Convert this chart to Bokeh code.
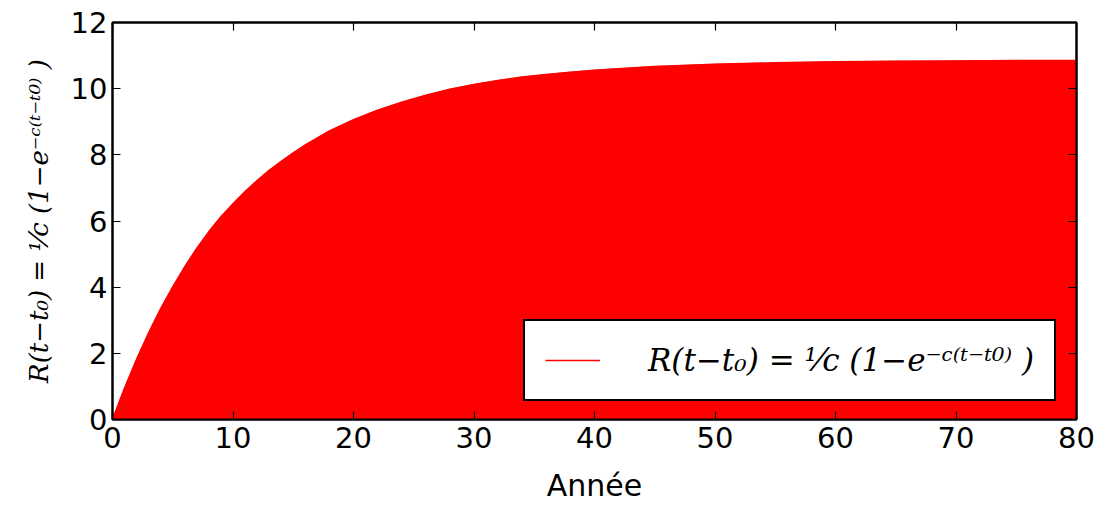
from bokeh.plotting import figure
from bokeh.models import Range1d, LinearAxis, Legend, LegendItem, FixedTicker
from bokeh.embed import file_html
from bokeh.resources import INLINE

# Values
years = [0, 1, 2, 3, 4, 5, 6, 7, 8, 9, 10, 11, 12, 13, 14, 15, 16, 18, 20, 22, 24, 26, 28,
         30, 32, 34, 36, 38, 40, 45, 50, 55, 60, 65, 70, 75, 80]
recrutement = [0.0, 0.95, 1.82, 2.62, 3.35, 4.01, 4.62, 5.18, 5.68, 6.13, 6.52,
               6.89, 7.22, 7.53, 7.80, 8.06, 8.30, 8.72, 9.06, 9.35, 9.59, 9.80, 9.98,
               10.13, 10.25, 10.35, 10.43, 10.50, 10.56, 10.67, 10.74, 10.78,
               10.81, 10.83, 10.84, 10.85, 10.85]
x_ticks = [0, 10, 20, 30, 40, 50, 60, 70, 80]
y_ticks = [0, 2, 4, 6, 8, 10, 12]
label_text = "R(t\u2212t\u2080) = \u00b9\u2044c (1\u2212e\u207b\u1d9c\u207d\u1d57\u207b\u1d57\u2070\u207e )"
x_label = "Ann\u00e9e"

p = figure(width=1096, height=505, output_backend="svg", toolbar_location=None,
           x_range=Range1d(0, 80), y_range=Range1d(0, 12),
           min_border_left=112, min_border_right=20, min_border_top=22,
           min_border_bottom=86)
p.grid.visible = False
p.outline_line_color = "black"
p.outline_line_width = 2
p.outline_line_alpha = 1.0

p.varea(x=years, y1=0, y2=recrutement, fill_color="#ff0000", fill_alpha=1.0)
p.line(years, recrutement, line_color="#b00000", line_width=1, line_alpha=0.6)
leg_line = p.line(years, recrutement, line_color="#ff0000", line_width=1.5)

font = "DejaVu Sans"
for ax in [p.xaxis[0], p.yaxis[0]]:
    ax.major_label_text_font = font
    ax.major_label_text_font_size = "29px"
    ax.major_label_text_color = "black"
    ax.axis_line_width = 2
    ax.axis_line_color = "black"
    ax.major_tick_in = 8
    ax.major_tick_out = 0
    ax.major_tick_line_width = 1.2
    ax.major_tick_line_color = "black"
    ax.minor_tick_line_color = None
    ax.axis_label_text_font_style = "normal"
    ax.axis_label_text_color = "black"

p.xaxis[0].ticker = FixedTicker(ticks=x_ticks)
p.yaxis[0].ticker = FixedTicker(ticks=y_ticks)
p.xaxis[0].major_label_standoff = 7
p.yaxis[0].major_label_standoff = 5
p.xaxis[0].axis_label = x_label
p.xaxis[0].axis_label_text_font = font
p.xaxis[0].axis_label_text_font_size = "30px"
p.xaxis[0].axis_label_standoff = 17
p.yaxis[0].axis_label = label_text
p.yaxis[0].axis_label_text_font = "DejaVu Serif"
p.yaxis[0].axis_label_text_font_style = "italic"
p.yaxis[0].axis_label_text_font_size = "26px"
p.yaxis[0].axis_label_standoff = 14

for loc, ticks in [("above", x_ticks), ("right", y_ticks)]:
    ax = LinearAxis(ticker=FixedTicker(ticks=ticks), major_label_text_font_size="1px",
                    major_label_text_color=None, major_label_standoff=0,
                    major_tick_in=8, major_tick_out=0, axis_line_width=2,
                    axis_line_color="black", minor_tick_line_color=None,
                    major_tick_line_width=1.2, major_tick_line_color="black")
    p.add_layout(ax, loc)

legend = Legend(items=[LegendItem(label=label_text, renderers=[leg_line])],
                location=(411, 18))
legend.border_line_color = "black"
legend.border_line_width = 2
legend.border_line_alpha = 1.0
legend.background_fill_color = "white"
legend.background_fill_alpha = 1.0
legend.label_text_font = "DejaVu Serif"
legend.label_text_font_style = "italic"
legend.label_text_font_size = "31px"
legend.label_text_color = "black"
legend.glyph_width = 55
legend.glyph_height = 38
legend.label_height = 38
legend.label_standoff = 48
legend.padding = 20
legend.margin = 0
p.add_layout(legend)

open("out.html", "w").write(file_html(p, INLINE))
